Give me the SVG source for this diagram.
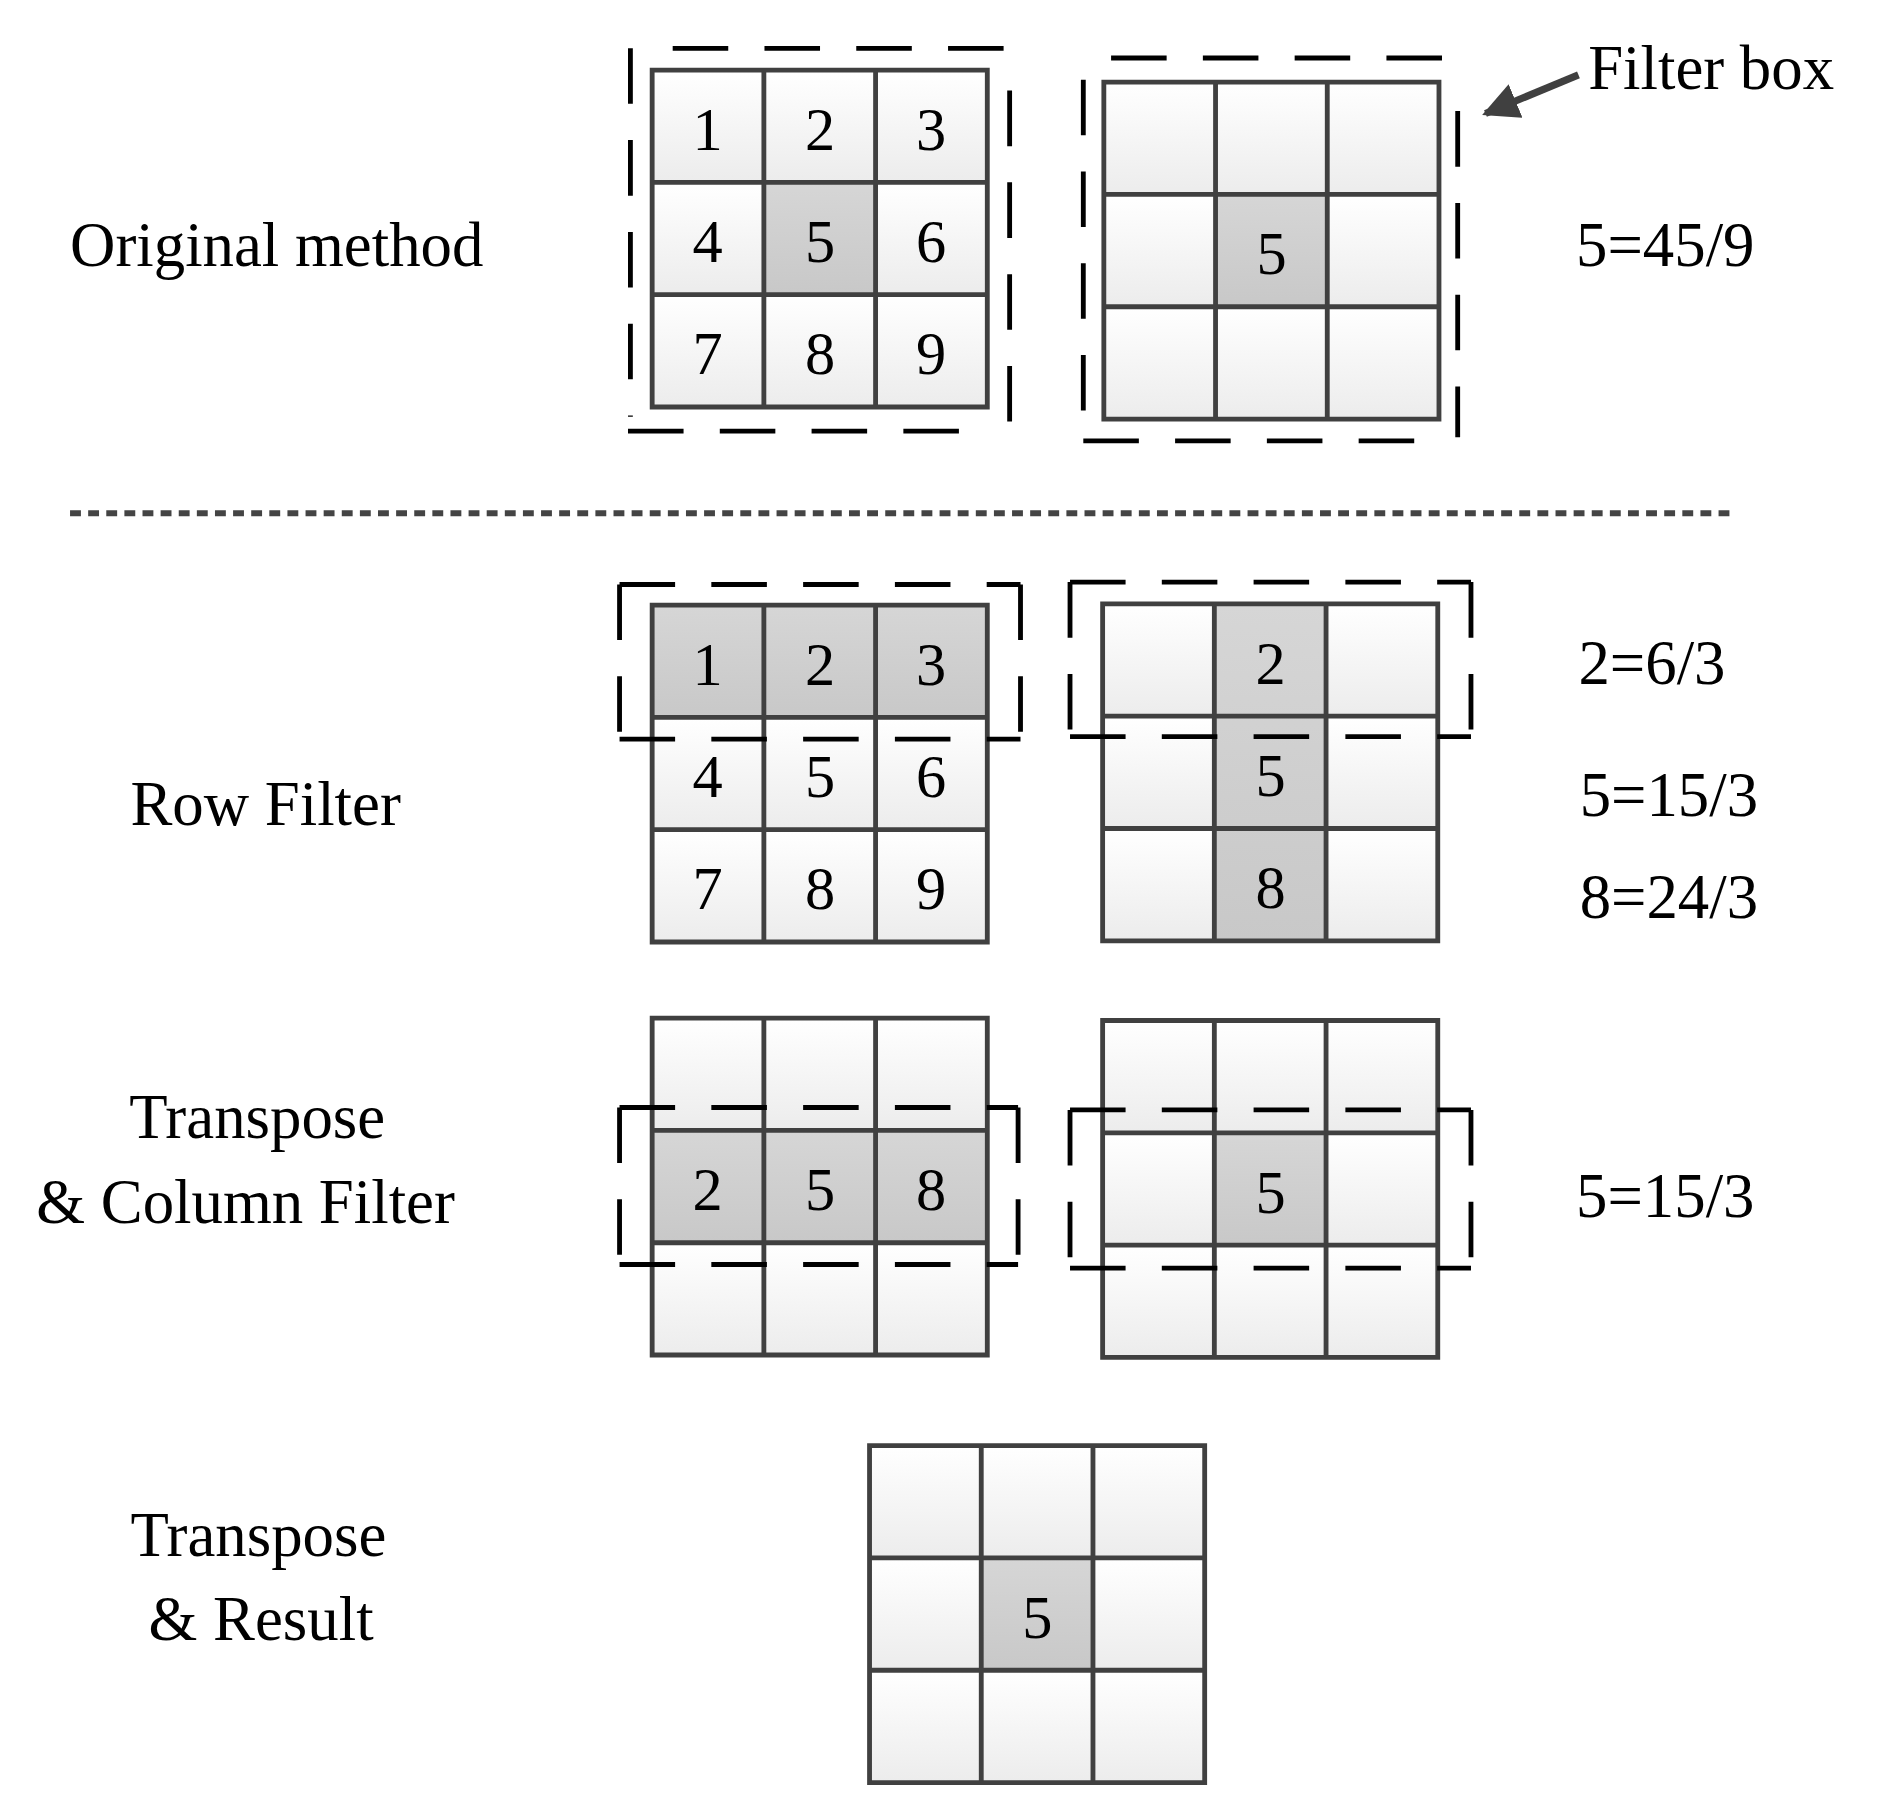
<svg xmlns="http://www.w3.org/2000/svg" xmlns:xlink="http://www.w3.org/1999/xlink" width="1884" height="1801" viewBox="0 0 1884 1801">
<style>
text{font-family:"Liberation Serif","Times New Roman",serif;fill:#000}
.d{font-size:50px;text-anchor:middle}
.l{font-size:52px}
.dash{stroke:#000;stroke-width:4;stroke-dasharray:46 30;fill:none}
.gl{fill:none;stroke:#404040;stroke-width:4}
</style>
<defs>
<linearGradient id="wg" x1="0" y1="0" x2="0" y2="1"><stop offset="0" stop-color="#fff"/><stop offset="1" stop-color="#ececec"/></linearGradient>
<linearGradient id="sg" x1="0" y1="0" x2="0" y2="1"><stop offset="0" stop-color="#d6d6d6"/><stop offset="1" stop-color="#c8c8c8"/></linearGradient>
<g id="bg"><rect x="0" y="0" width="92.5" height="93" fill="url(#wg)"/><rect x="92.5" y="0" width="92.5" height="93" fill="url(#wg)"/><rect x="185" y="0" width="92.5" height="93" fill="url(#wg)"/><rect x="0" y="93" width="92.5" height="93" fill="url(#wg)"/><rect x="92.5" y="93" width="92.5" height="93" fill="url(#wg)"/><rect x="185" y="93" width="92.5" height="93" fill="url(#wg)"/><rect x="0" y="186" width="92.5" height="93" fill="url(#wg)"/><rect x="92.5" y="186" width="92.5" height="93" fill="url(#wg)"/><rect x="185" y="186" width="92.5" height="93" fill="url(#wg)"/></g>
<path id="ln" class="gl" d="M0 0H277.5V279H0Z M92.5 0V279 M185 0V279 M0 93H277.5 M0 186H277.5"/>
<marker id="ah" viewBox="0 0 10 10" refX="9" refY="5" markerWidth="5" markerHeight="5" orient="auto"><path d="M0 0L10 5L0 10Z" fill="#404040"/></marker>
</defs>
<g transform="scale(1.2077)">
<g id="orig-left" transform="translate(540,58)">
<use xlink:href="#bg"/><rect x="92.5" y="93" width="92.5" height="93" fill="url(#sg)"/><use xlink:href="#ln"/>
<text class="d" x="46" y="66">1</text><text class="d" x="139" y="66">2</text><text class="d" x="231" y="66">3</text>
<text class="d" x="46" y="159">4</text><text class="d" x="139" y="159">5</text><text class="d" x="231" y="159">6</text>
<text class="d" x="46" y="252">7</text><text class="d" x="139" y="252">8</text><text class="d" x="231" y="252">9</text>
</g>
<g id="orig-right" transform="translate(914,68)">
<use xlink:href="#bg"/><rect x="92.5" y="93" width="92.5" height="93" fill="url(#sg)"/><use xlink:href="#ln"/>
<text class="d" x="139" y="159">5</text>
</g>
<g id="row-left" transform="translate(540,501)">
<use xlink:href="#bg"/><rect x="0" y="0" width="277.5" height="93" fill="url(#sg)"/><use xlink:href="#ln"/>
<text class="d" x="46" y="66">1</text><text class="d" x="139" y="66">2</text><text class="d" x="231" y="66">3</text>
<text class="d" x="46" y="159">4</text><text class="d" x="139" y="159">5</text><text class="d" x="231" y="159">6</text>
<text class="d" x="46" y="252">7</text><text class="d" x="139" y="252">8</text><text class="d" x="231" y="252">9</text>
</g>
<g id="row-right" transform="translate(913,500)">
<use xlink:href="#bg"/><rect x="92.5" y="0" width="92.5" height="279" fill="url(#sg)"/><use xlink:href="#ln"/>
<text class="d" x="139" y="66">2</text><text class="d" x="139" y="159">5</text><text class="d" x="139" y="252">8</text>
</g>
<g id="col-left" transform="translate(540,843)">
<use xlink:href="#bg"/><rect x="0" y="93" width="277.5" height="93" fill="url(#sg)"/><use xlink:href="#ln"/>
<text class="d" x="46" y="159">2</text><text class="d" x="139" y="159">5</text><text class="d" x="231" y="159">8</text>
</g>
<g id="col-right" transform="translate(913,845)">
<use xlink:href="#bg"/><rect x="92.5" y="93" width="92.5" height="93" fill="url(#sg)"/><use xlink:href="#ln"/>
<text class="d" x="139" y="159">5</text>
</g>
<g id="result" transform="translate(720,1197)">
<use xlink:href="#bg"/><rect x="92.5" y="93" width="92.5" height="93" fill="url(#sg)"/><use xlink:href="#ln"/>
<text class="d" x="139" y="159">5</text>
</g>
<g id="filter-boxes">
<path class="dash" d="M557 40H838 M522 40V345 M836 75V357 M520 357H800"/>
<path class="dash" d="M920 48H1203 M897 66V368 M1207 92V362 M897 365H1175"/>
<path class="dash" d="M513 484H845 M513 484V612 M845 484V612 M513 612H845"/>
<path class="dash" d="M886 482H1218 M886 482V610 M1218 482V610 M886 610H1218"/>
<path class="dash" d="M513 917H843 M513 917V1047 M843 917V1047 M513 1047H843"/>
<path class="dash" d="M886 919H1218 M886 919V1050 M1218 919V1050 M886 1050H1218"/>
</g>
<g id="connectors">
<line x1="1307" y1="62" x2="1230" y2="94" stroke="#404040" stroke-width="6" marker-end="url(#ah)"/>
<line x1="58" y1="425" x2="1432" y2="425" stroke="#444" stroke-width="5" stroke-dasharray="9 6"/>
</g>
<g id="labels">
<text class="l" x="1315" y="74">Filter box</text>
<text class="l" x="58" y="220">Original method</text>
<text class="l" x="1305" y="220">5=45/9</text>
<text class="l" x="108" y="683">Row Filter</text>
<text class="l" x="1307" y="566">2=6/3</text>
<text class="l" x="1308" y="676">5=15/3</text>
<text class="l" x="1308" y="760">8=24/3</text>
<text class="l" x="107" y="942">Transpose</text>
<text class="l" x="30" y="1013">&amp; Column Filter</text>
<text class="l" x="1305" y="1008">5=15/3</text>
<text class="l" x="108" y="1288">Transpose</text>
<text class="l" x="123" y="1358">&amp; Result</text>
</g>
</g>
</svg>
